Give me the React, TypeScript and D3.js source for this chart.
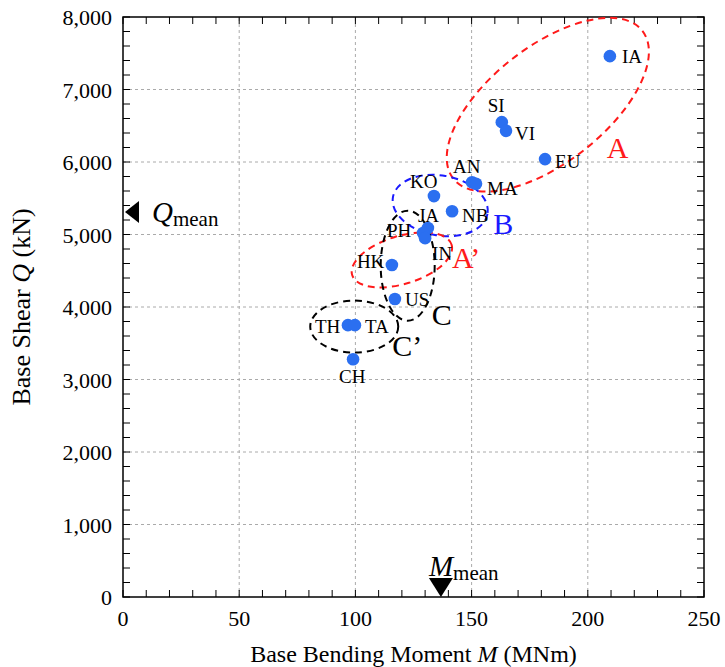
import * as d3 from "d3";

// country codes and their base bending moment M (MNm) / base shear Q (kN)
const codes = ["IA", "SI", "VI", "EU", "AN", "MA", "KO", "NB", "JA", "PH", "IN", "HK", "US", "TH", "TA", "CH"];
const moments = [209.5, 163, 164.8, 181.6, 150.2, 151.9, 133.8, 141.6, 131.2, 129.1, 130, 115.7, 117, 96.8, 99.8, 99];
const shears = [7460, 6550, 6430, 6040, 5720, 5700, 5530, 5320, 5090, 5020, 4950, 4580, 4110, 3750, 3750, 3280];

const xTicks = [0, 50, 100, 150, 200, 250];
const yTicks = [0, 1000, 2000, 3000, 4000, 5000, 6000, 7000, 8000];
const mMean = 136.8;
const qMean = 5310;

// label offsets (px) from each point
const labelOffset: Record<string, [number, number]> = {
  IA: [12, 7], SI: [-14, -10], VI: [9, 9], EU: [10, 9], AN: [-19, -9], MA: [11, 11],
  KO: [-24, -8], NB: [10, 11], JA: [-10, -6], PH: [-36, 4], IN: [7, 22], HK: [-35, 3],
  US: [10, 7], TH: [-33, 8], TA: [10, 8], CH: [-14, 24],
};

// grouping ellipses: centre in data units, radii in px, rotation in degrees
const groups = [
  { name: "A", cm: 182.8, cq: 6790, rx: 120, ry: 58, rot: -38, color: "#ff1a1a", lx: 59, ly: 53 },
  { name: "B", cm: 136.5, cq: 5400, rx: 48, ry: 30, rot: 10, color: "#1a1aff", lx: 53, ly: 28 },
  { name: "A\u2019", cm: 120, cq: 4650, rx: 52, ry: 24, rot: -17, color: "#ff1a1a", lx: 50, ly: 8 },
  { name: "C", cm: 122.5, cq: 4570, rx: 27, ry: 55, rot: 0, color: "#000", lx: 24, ly: 59 },
  { name: "C\u2019", cm: 99.5, cq: 3730, rx: 44, ry: 26, rot: 0, color: "#000", lx: 38, ly: 29 },
];

const W = 725;
const H = 667;
const margin = { top: 17, right: 21, bottom: 70, left: 123 };
const font = "'Liberation Serif', 'Times New Roman', serif";

export default function App() {
  const x = d3.scaleLinear().domain([0, 250]).range([margin.left, W - margin.right]);
  const y = d3.scaleLinear().domain([0, 8000]).range([H - margin.bottom, margin.top]);
  const [x0, x1] = x.range();
  const [y0, y1] = y.range();
  const xMinor = d3.range(0, 251, 10);
  const yMinor = d3.range(0, 8001, 200);
  const tk = 7;

  return (
    <svg width={W} height={H} style={{ position: "absolute", left: 0, top: 0 }} fontFamily={font}>
      <rect width={W} height={H} fill="#fff" />
      {/* grid */}
      {xTicks.slice(1, -1).map((t) => (
        <line key={"gx" + t} x1={x(t)} x2={x(t)} y1={y0} y2={y1} stroke="#aaa" strokeDasharray="3,3" />
      ))}
      {yTicks.slice(1, -1).map((t) => (
        <line key={"gy" + t} x1={x0} x2={x1} y1={y(t)} y2={y(t)} stroke="#aaa" strokeDasharray="3,3" />
      ))}
      {/* ticks */}
      {xMinor.map((t) => (
        <g key={"tx" + t} stroke="#000" strokeWidth={1}>
          <line x1={x(t)} x2={x(t)} y1={y0} y2={y0 - tk} />
          <line x1={x(t)} x2={x(t)} y1={y1} y2={y1 + tk} />
        </g>
      ))}
      {yMinor.map((t) => (
        <g key={"ty" + t} stroke="#000" strokeWidth={1}>
          <line x1={x0} x2={x0 + tk} y1={y(t)} y2={y(t)} />
          <line x1={x1} x2={x1 - tk} y1={y(t)} y2={y(t)} />
        </g>
      ))}
      <rect x={x0} y={y1} width={x1 - x0} height={y0 - y1} fill="none" stroke="#000" strokeWidth={1.5} />
      {/* tick labels */}
      {xTicks.map((t) => (
        <text key={"lx" + t} x={x(t)} y={y0 + 29} textAnchor="middle" fontSize={22}>
          {t}
        </text>
      ))}
      {yTicks.map((t) => (
        <text key={"ly" + t} x={x0 - 11} y={y(t) + 8} textAnchor="end" fontSize={22}>
          {d3.format(",")(t)}
        </text>
      ))}
      {/* axis titles */}
      <text x={(x0 + x1) / 2} y={H - 5} textAnchor="middle" fontSize={24}>
        Base Bending Moment <tspan fontStyle="italic">M</tspan> (MNm)
      </text>
      <text transform={`translate(30,${(y0 + y1) / 2}) rotate(-90)`} textAnchor="middle" fontSize={26}>
        Base Shear <tspan fontStyle="italic">Q</tspan> (kN)
      </text>
      {/* ellipses */}
      {groups.map((g) => (
        <g key={g.name} transform={`translate(${x(g.cm)},${y(g.cq)})`}>
          <ellipse rx={g.rx} ry={g.ry} transform={`rotate(${g.rot})`} fill="none" stroke={g.color} strokeWidth={2} strokeDasharray="7,5" />
          <text x={g.lx} y={g.ly} fill={g.color} fontSize={30}>
            {g.name}
          </text>
        </g>
      ))}
      {/* points */}
      {codes.map((c, i) => (
        <circle key={c} cx={x(moments[i])} cy={y(shears[i])} r={6.3} fill="#2b6ff0" />
      ))}
      {codes.map((c, i) => (
        <text key={"t" + c} x={x(moments[i]) + labelOffset[c][0]} y={y(shears[i]) + labelOffset[c][1]} fontSize={19}>
          {c}
        </text>
      ))}
      {/* mean markers */}
      <path d={`M${x0 + 2},${y(qMean)} l14,-11 l0,22 z`} fill="#000" />
      <text x={x0 + 29} y={y(qMean) + 10} fontSize={21}>
        <tspan fontStyle="italic" fontSize={29}>Q</tspan>
        <tspan dy={4}>mean</tspan>
      </text>
      <path d={`M${x(mMean)},${y0} l-12,-19 l24,0 z`} fill="#000" />
      <text x={x(mMean) - 12} y={y0 - 21} fontSize={21}>
        <tspan fontStyle="italic" fontSize={29}>M</tspan>
        <tspan dy={4}>mean</tspan>
      </text>
    </svg>
  );
}
